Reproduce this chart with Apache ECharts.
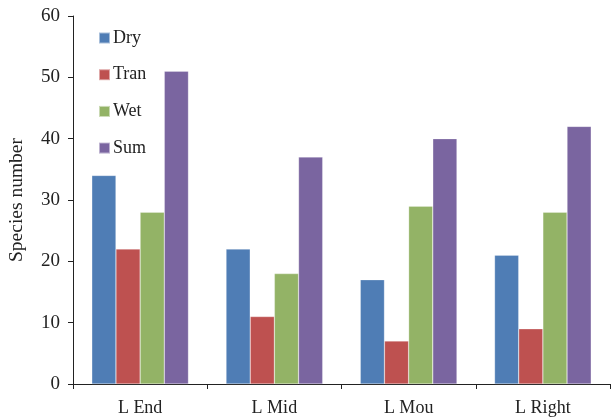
<!DOCTYPE html>
<html>
<head>
<meta charset="utf-8">
<script src="https://cdn.jsdelivr.net/npm/echarts@6/dist/echarts.min.js"></script>
<style>
  html, body { margin: 0; padding: 0; background: #fff; }
  #chart { width: 613px; height: 419px; }
</style>
</head>
<body>
<div id="chart"></div>
<script>
// Species counts per site and habitat season
const categories = ['L End', 'L Mid', 'L Mou', 'L Right'];
const dry  = [34, 22, 17, 21];
const tran = [22, 11, 7, 9];
const wet  = [28, 18, 29, 28];
const sum  = [51, 37, 40, 42];
const yTicks = [0, 10, 20, 30, 40, 50, 60];

const seriesNames = ['Dry', 'Tran', 'Wet', 'Sum'];
const seriesData = [dry, tran, wet, sum];
const colors = ['#4F7DB5', '#BE5150', '#93B366', '#7A65A0'];

const font = 'Liberation Serif';
const chart = echarts.init(document.getElementById('chart'));

chart.setOption({
  animation: false,
  color: colors,
  grid: { left: 73, right: 3, top: 16, bottom: 35, containLabel: false, outerBoundsMode: 'none' },
  legend: {
    orient: 'vertical',
    left: 93,
    top: 24,
    itemWidth: 11,
    itemHeight: 11,
    itemGap: 18.7,
    icon: 'rect',
    textStyle: { fontFamily: font, fontSize: 18, color: '#222', padding: [0, 0, 0, -2] },
    data: seriesNames
  },
  xAxis: {
    type: 'category',
    data: categories,
    axisLine: { lineStyle: { color: '#222', width: 1 } },
    axisTick: { show: true, alignWithLabel: false, length: 5, lineStyle: { color: '#222' } },
    axisLabel: { fontFamily: font, fontSize: 18, color: '#222', margin: 15 }
  },
  yAxis: {
    type: 'value',
    min: yTicks[0],
    max: yTicks[yTicks.length - 1],
    interval: 10,
    name: 'Species number',
    nameLocation: 'middle',
    nameGap: 46,
    nameTextStyle: { fontFamily: font, fontSize: 19.5, color: '#222' },
    axisLine: { show: true, lineStyle: { color: '#222', width: 1 } },
    axisTick: { show: true, length: 5, lineStyle: { color: '#222' } },
    axisLabel: { fontFamily: font, fontSize: 19, color: '#222', margin: 13 },
    splitLine: { show: false }
  },
  series: seriesNames.map((name, i) => ({
    name: name,
    type: 'bar',
    data: seriesData[i],
    barGap: '0%',
    barCategoryGap: '28%',
    itemStyle: { color: colors[i], borderColor: 'rgba(255,255,255,0.5)', borderWidth: 0.5 }
  }))
});
</script>
</body>
</html>
